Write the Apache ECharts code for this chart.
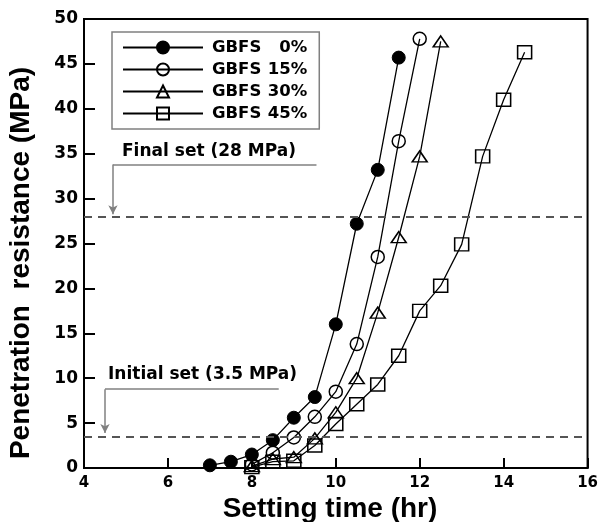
<!DOCTYPE html>
<html>
<head>
<meta charset="utf-8">
<script src="https://cdn.jsdelivr.net/npm/echarts@6/dist/echarts.min.js"></script>
<style>
  html, body { margin: 0; padding: 0; background: #fff; }
  #chart { width: 601px; height: 522px; }
</style>
</head>
<body>
<div id="chart"></div>
<script>
// Penetration resistance vs. setting time for four GBFS replacement levels
const seriesNames = ['GBFS 0%', 'GBFS 15%', 'GBFS 30%', 'GBFS 45%'];

const time0  = [7, 7.5, 8, 8.5, 9, 9.5, 10, 10.5, 11, 11.5];
const res0   = [0.3, 0.7, 1.5, 3.1, 5.6, 7.9, 16.0, 27.2, 33.2, 45.7];

const time15 = [8, 8.5, 9, 9.5, 10, 10.5, 11, 11.5, 12];
const res15  = [0.4, 1.7, 3.4, 5.7, 8.5, 13.8, 23.5, 36.4, 47.8];

const time30 = [8, 8.5, 9, 9.5, 10, 10.5, 11, 11.5, 12, 12.5];
const res30  = [0.2, 1.0, 1.2, 3.3, 6.2, 10.0, 17.3, 25.7, 34.7, 47.5];

const time45 = [8, 8.5, 9, 9.5, 10, 10.5, 11, 11.5, 12, 12.5, 13, 13.5, 14, 14.5];
const res45  = [0.1, 0.7, 0.8, 2.5, 4.9, 7.1, 9.3, 12.5, 17.5, 20.3, 24.9, 34.7, 41.0, 46.3];

// Set thresholds (MPa)
const initialSet = 3.5;
const finalSet = 28;

const xTicks = { min: 4, max: 16, interval: 2 };
const yTicks = { min: 0, max: 50, interval: 5 };

const pairs = (xs, ys) => xs.map((x, i) => [x, ys[i]]);

const NUM_FONT = '"DejaVu Sans", sans-serif';
const lineStyle = { color: '#000', width: 1.3 };

function curve(name, xs, ys, symbol, size, filled) {
  return {
    name: name,
    type: 'line',
    data: pairs(xs, ys),
    symbol: symbol,
    symbolSize: size,
    showSymbol: true,
    lineStyle: lineStyle,
    itemStyle: filled
      ? { color: '#000', borderColor: '#000', borderWidth: 1 }
      : { color: 'rgba(0,0,0,0)', borderColor: '#000', borderWidth: 1.5 },
    emphasis: { disabled: true },
    z: 3
  };
}

const chart = echarts.init(document.getElementById('chart'), null, { renderer: 'canvas' });

const arrowLine = { color: '#808080', width: 1.5, type: 'solid' };

chart.setOption({
  backgroundColor: '#fff',
  animation: false,
  grid: {
    left: 84, right: 9, top: 19, bottom: 54,
    show: true, borderColor: '#000', borderWidth: 2
  },
  xAxis: {
    type: 'value',
    min: xTicks.min, max: xTicks.max, interval: xTicks.interval,
    axisLine: { lineStyle: { color: '#000', width: 2 } },
    axisTick: { inside: true, length: 10, lineStyle: { color: '#000', width: 2 } },
    axisLabel: { color: '#000', fontFamily: NUM_FONT, fontWeight: 'bold', fontSize: 15, margin: 8 },
    splitLine: { show: false }
  },
  yAxis: {
    type: 'value',
    min: yTicks.min, max: yTicks.max, interval: yTicks.interval,
    axisLine: { lineStyle: { color: '#000', width: 2 } },
    axisTick: { inside: true, length: 11, lineStyle: { color: '#000', width: 2 } },
    axisLabel: { color: '#000', fontFamily: NUM_FONT, fontWeight: 'bold', fontSize: 17, margin: 6 },
    splitLine: { show: false }
  },
  legend: {
    data: seriesNames,
    orient: 'vertical',
    left: 112, top: 32,
    padding: [7, 12, 7, 10],
    itemWidth: 80, itemHeight: 15, itemGap: 5,
    borderColor: '#808080', borderWidth: 1.5,
    backgroundColor: '#fff',
    selectedMode: false,
    formatter: function (name) {
      const pct = name.split(' ')[1];
      return '{a|GBFS}{b|' + pct + '}';
    },
    textStyle: {
      rich: {
        a: { fontFamily: NUM_FONT, fontWeight: 'bold', fontSize: 16.5, color: '#000', padding: [0, 0, 0, 4], lineHeight: 15 },
        b: { fontFamily: NUM_FONT, fontWeight: 'bold', fontSize: 16.5, color: '#000', width: 46, align: 'right', lineHeight: 15 }
      }
    }
  },
  series: [
    curve(seriesNames[0], time0, res0, 'circle', 13, true),
    curve(seriesNames[1], time15, res15, 'circle', 13, false),
    curve(seriesNames[2], time30, res30, 'triangle', [15, 11], false),
    curve(seriesNames[3], time45, res45, 'rect', [14, 13], false),
    {
      name: 'setLines',
      type: 'line',
      data: [],
      z: 1,
      markLine: {
        silent: true,
        animation: false,
        symbol: 'none',
        label: { show: false },
        emphasis: { disabled: true },
        data: [
          { yAxis: finalSet, lineStyle: { color: '#555', width: 2, type: [8, 6] } },
          { yAxis: initialSet, lineStyle: { color: '#555', width: 2, type: [8, 6] } },
          // Final set pointer
          [{ coord: [4.69, 33.8], lineStyle: arrowLine }, { coord: [9.54, 33.8] }],
          [{ coord: [4.69, 33.8], lineStyle: arrowLine, symbol: 'none' },
           { coord: [4.69, finalSet + 0.25], symbol: 'arrow', symbolSize: [7, 9] }],
          // Initial set pointer
          [{ coord: [4.5, 8.77], lineStyle: arrowLine }, { coord: [8.64, 8.77] }],
          [{ coord: [4.5, 8.77], lineStyle: arrowLine, symbol: 'none' },
           { coord: [4.5, initialSet + 0.4], symbol: 'arrow', symbolSize: [7, 9] }]
        ]
      }
    }
  ],
  graphic: [
    {
      type: 'text', x: 21, y: 263, rotation: Math.PI / 2,
      style: {
        text: 'Penetration  resistance (MPa)',
        font: 'bold 28px "Liberation Sans", Arial, sans-serif',
        fill: '#000', textAlign: 'center', textVerticalAlign: 'middle'
      }
    },
    {
      type: 'text', x: 330, y: 509,
      style: {
        text: 'Setting time (hr)',
        font: 'bold 28px "Liberation Sans", Arial, sans-serif',
        fill: '#000', textAlign: 'center', textVerticalAlign: 'middle'
      }
    },
    {
      type: 'text', x: 122, y: 152,
      style: {
        text: 'Final set (28 MPa)',
        font: 'bold 17px "DejaVu Sans", sans-serif',
        fill: '#000', textAlign: 'left', textVerticalAlign: 'middle'
      }
    },
    {
      type: 'text', x: 108, y: 375,
      style: {
        text: 'Initial set (3.5 MPa)',
        font: 'bold 17px "DejaVu Sans", sans-serif',
        fill: '#000', textAlign: 'left', textVerticalAlign: 'middle'
      }
    }
  ]
});
</script>
</body>
</html>
